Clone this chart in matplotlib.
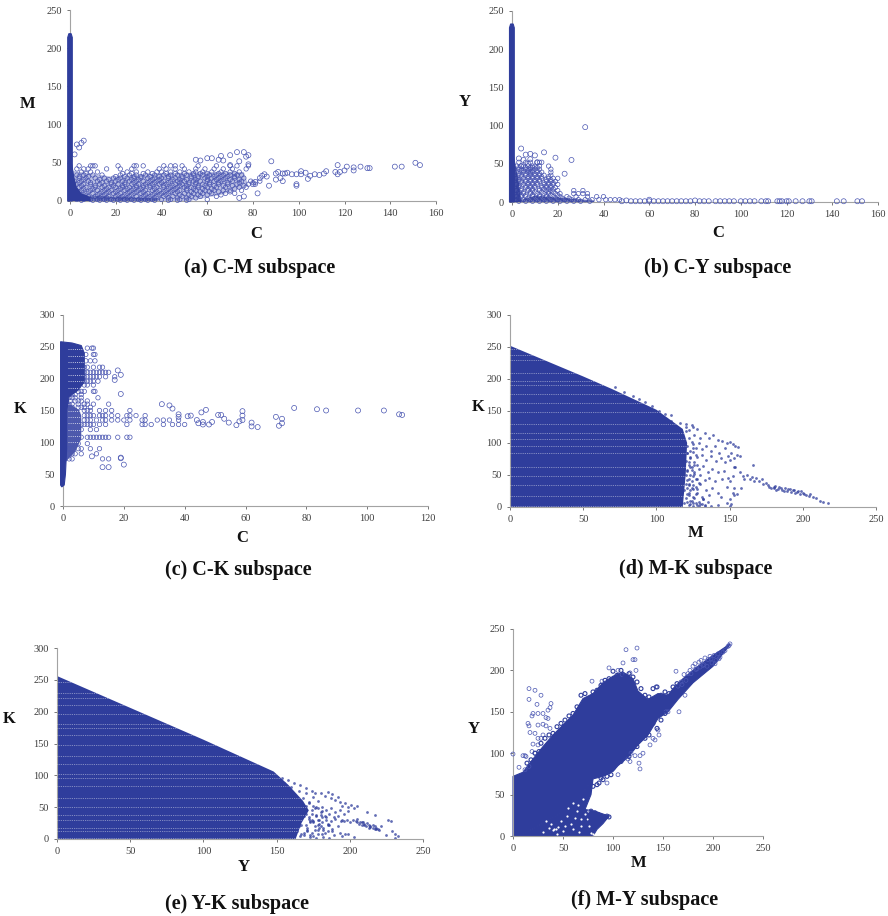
import matplotlib
matplotlib.use('Agg')
import matplotlib.pyplot as plt

W, H = 888, 916
BLUE = '#2F3D9C'
RING = '#4A56B2'
MID = '#8F96CF'
GREY = '#A3A3A3'
SERIF = ['Liberation Serif', 'DejaVu Serif']

# ---- (a) C-M
a_strip_c = [-1, 1, 1, 0.5, -0.5, -1]
a_strip_m = [0, 0, 214, 219, 219, 214]
a_wedge_c = [-1, -1, 1, 2, 3, 5, 9, 9, -1]
a_wedge_m = [0, 52, 48, 30, 18, 10, 5, 0, 0]
a_base_c = [0, 0, 8, 25, 40, 38, 20]
a_base_m = [0, 14, 7, 5, 3, 0, 0]
a_cloud_c = [0, 0, 18, 38, 58, 76, 78, 66, 52]
a_cloud_m = [0, 40, 32, 36, 38, 38, 20, 8, 0]
a_row_m = [2, 6, 10, 14, 18, 22, 26, 30, 34, 38, 42, 46]
a_row_c = [
    [3, 6, 9, 12, 15, 18, 21, 24, 27, 30, 33, 36, 40, 44, 48, 52, 60],
    [2, 5, 8, 11, 14, 17, 20, 23, 26, 29, 32, 35, 38, 41, 45, 49, 53, 57, 64],
    [3, 7, 10, 13, 16, 19, 22, 25, 28, 31, 34, 37, 40, 43, 46, 50, 54, 58, 62, 68, 72],
    [2, 5, 9, 12, 15, 18, 21, 24, 27, 30, 33, 36, 39, 42, 45, 48, 51, 55, 59, 63, 67, 70, 75],
    [4, 7, 11, 14, 17, 20, 23, 26, 29, 32, 35, 38, 41, 44, 47, 50, 53, 56, 60, 64, 68, 74, 77],
    [3, 6, 9, 13, 18, 21, 24, 27, 30, 33, 36, 39, 42, 46, 49, 52, 55, 58, 61, 65, 69, 73, 78, 81],
    [2, 5, 8, 12, 16, 20, 23, 26, 29, 32, 35, 38, 41, 44, 47, 50, 54, 57, 60, 63, 66, 71, 75, 79, 83],
    [4, 7, 11, 15, 19, 22, 25, 28, 31, 34, 37, 40, 43, 46, 49, 53, 56, 59, 62, 65, 68, 72, 76],
    [3, 6, 10, 14, 22, 26, 29, 33, 37, 41, 44, 47, 51, 54, 58, 61, 64, 67, 70, 73, 75],
    [5, 9, 12, 25, 29, 34, 38, 40, 44, 48, 52, 55, 58, 62, 66, 70, 74],
    [3, 6, 8, 16, 22, 27, 39, 42, 46, 50, 55, 59, 63, 67, 71, 77],
    [4, 9, 10, 11, 21, 28, 29, 32, 41, 44, 46, 49, 56, 64, 70, 73, 78],
]
a_row2_m = [1, 4, 8, 12, 16, 20, 24, 28, 32, 36]
a_row2_c = [
    [5, 10, 13, 16, 19, 22, 25, 28, 31, 34, 37, 43, 47, 51],
    [4, 7, 13, 16, 22, 25, 31, 34, 37, 43, 47, 51, 55],
    [6, 12, 15, 21, 24, 27, 33, 36, 39, 42, 48, 52, 56, 60, 66],
    [4, 8, 14, 17, 20, 26, 29, 32, 38, 41, 44, 47, 53, 57, 61, 65, 70],
    [6, 10, 16, 22, 25, 28, 31, 37, 43, 46, 51, 54, 58, 62, 72],
    [5, 11, 15, 19, 23, 29, 32, 35, 41, 45, 48, 51, 56, 59, 63, 67, 71, 76],
    [4, 9, 14, 18, 24, 28, 34, 37, 40, 43, 48, 52, 55, 61, 65, 69, 74, 80],
    [6, 13, 17, 21, 27, 30, 36, 39, 45, 48, 51, 55, 60, 64, 67, 70, 74],
    [4, 8, 20, 24, 28, 31, 35, 39, 43, 49, 53, 56, 60, 63, 66, 69, 72],
    [7, 23, 27, 32, 36, 42, 46, 50, 54, 57, 60, 65, 68, 72],
]
a_free_c = [151, 153, 142, 145, 131, 130, 127, 124, 124, 121, 120, 117, 117, 118, 116, 112, 111, 109,
            107, 105, 104, 103, 101, 101, 99, 99, 99, 97, 95, 94, 93, 93, 92, 91, 90, 90, 88, 87, 86,
            85, 84, 83, 82, 81, 80, 78, 78, 77, 76, 73, 70, 66, 65, 62, 60, 57, 55, 76, 74, 74, 67, 70,
            4, 3, 5, 6, 2]
a_free_m = [50, 47, 45, 45, 43, 43, 45, 44, 40, 45, 40, 47, 35, 38, 38, 39, 36, 34,
            35, 33, 29, 37, 39, 35, 35, 22, 20, 35, 37, 36, 36, 26, 30, 38, 36, 28, 52, 20, 32,
            35, 33, 30, 10, 25, 22, 48, 60, 58, 64, 64, 60, 59, 54, 56, 56, 53, 54, 6, 4, 52, 53, 47,
            70, 74, 76, 79, 61]

# ---- (b) C-Y
b_strip_c = [-1.1, 1, 1, 0.5, -0.6, -1.1]
b_strip_y = [0, 0, 228, 233, 233, 228]
b_wedge_c = [-1, -1, 1, 2, 3, 4, -1]
b_wedge_y = [0, 68, 58, 42, 25, 0, 0]
b_low_c = [0, 10, 20, 36, 36, 0]
b_low_y = [0, 8, 6, 2, 0, 0]
b_row_y = [3, 7, 11, 15, 19, 23, 27, 31, 35, 39, 43, 47, 52]
b_row_c = [
    [2, 5, 8, 11, 14, 17, 20, 23, 26, 29, 32, 35, 38, 41, 43, 45, 47],
    [2, 4, 6, 9, 12, 15, 18, 21, 24, 28, 33, 37, 40],
    [3, 5, 8, 11, 14, 16, 19, 21, 27, 29, 31, 33],
    [2, 4, 7, 9, 12, 15, 17, 20, 27, 31],
    [3, 6, 8, 10, 13, 15, 17, 19],
    [2, 5, 7, 9, 11, 14, 16, 18, 20],
    [3, 4, 6, 8, 10, 12, 15, 17, 19],
    [2, 5, 7, 9, 11, 13, 16, 18, 20],
    [3, 4, 6, 8, 10, 12, 14, 17],
    [2, 5, 7, 8, 9, 11, 13, 17],
    [3, 4, 6, 7, 8, 10, 12, 17],
    [2, 4, 5, 7, 9, 10, 12, 16],
    [3, 6, 8, 11, 12, 13],
]
b_row2_y = [1, 5, 9, 13, 17, 21, 25, 29, 33, 37, 41, 45]
b_row2_c = [
    [3, 6, 9, 12, 15, 18, 21, 24, 27, 30, 34],
    [3, 7, 10, 13, 16, 19, 22, 25],
    [4, 6, 9, 12, 15, 17, 20],
    [3, 5, 8, 10, 13, 16, 18],
    [4, 7, 9, 12, 14, 16, 18],
    [3, 6, 8, 10, 13, 15, 17],
    [4, 7, 9, 11, 14, 16, 18],
    [3, 6, 8, 10, 12, 15, 17],
    [4, 7, 9, 11, 13, 16],
    [3, 6, 8, 10, 12],
    [4, 5, 7, 9, 11],
    [3, 6, 8, 9, 11],
]
b_free_c = [32, 4, 6, 8, 10, 14, 19, 26, 23, 5, 3, 7, 4, 8, 11,
            48, 50, 52, 54, 56, 58, 60, 60, 62, 64, 66, 68, 70, 72, 74, 76, 78, 80, 82, 84, 86, 89, 91, 93,
            95, 97, 100, 102, 104, 106, 109, 111, 112, 116, 117, 118, 120, 121, 124, 127, 130, 131, 142,
            145, 151, 153]
b_free_y = [98, 70, 62, 63, 61, 65, 58, 55, 37, 55, 57, 50, 47, 56, 52,
            1, 2, 1, 1, 1, 1, 1, 3, 1, 1, 1, 1, 1, 1, 1, 1, 1, 2, 1, 1, 1, 1, 1, 1,
            1, 1, 1, 1, 1, 1, 1, 1, 1, 1, 1, 1, 1, 1, 1, 1, 1, 1, 1,
            1, 1, 1]

# ---- (c) C-K
c_block_c = [-0.8, -0.8, 3, 6, 7, 7, 5, 2, 1.2, 1.2, 0.8, 0.4, -0.4]
c_block_k = [33, 258, 256, 252, 240, 195, 182, 172, 150, 90, 50, 33, 30]
c_lower_c = [0, 3, 5.5, 6, 6, 4, 1, 0]
c_lower_k = [170, 158, 150, 140, 105, 85, 70, 60]
c_row_k = [248, 238, 228, 218, 210, 203, 196, 190, 180, 175, 170, 165, 160, 155, 150, 142, 135, 128, 120, 108, 98, 90, 82, 74]
c_row_c = [
    [8, 9.5, 10],
    [7.5, 10.5, 10],
    [7.5, 9, 10.5],
    [7, 8, 10, 12, 13],
    [7, 8, 9, 10, 11, 12, 13, 14, 15],
    [7, 8, 9, 10, 11, 12, 14, 17],
    [7, 8, 9, 10, 11.5],
    [7, 8, 10],
    [3, 5, 6, 7, 10, 10.5],
    [2, 3, 4, 6],
    [2, 3, 4, 6, 11.5],
    [2.5, 4, 5, 6, 8],
    [2, 3, 5, 7, 8, 10, 15],
    [3, 5, 6, 7, 9],
    [3, 4, 7, 8, 9, 12, 14, 16, 22],
    [2, 3, 5, 7, 8, 9, 10, 12, 13, 14, 16, 18, 21, 22, 24, 27],
    [3, 5, 7, 8, 9, 11, 13, 14, 16, 18, 20, 22, 26, 27, 31, 33, 35, 38],
    [2, 4, 6, 7, 8, 9, 10, 12, 14, 21, 26, 27, 29, 33, 36, 38, 40],
    [2, 3, 5, 6, 9, 11],
    [2, 4, 5, 6, 8, 9, 10, 11, 12, 13, 14, 15, 18, 21, 22],
    [3, 4, 5, 8],
    [2, 3, 5, 6, 9, 12],
    [2, 3, 4, 6, 11],
    [2, 3, 13, 15],
]
c_free_c = [18, 19, 17, 19, 13, 15, 20, 19, 19, 9.5, 32.5, 35, 36, 47, 45.5, 42, 41, 38, 38, 44, 44.5, 46, 46, 48, 49,
            51, 52, 53, 54.5, 57, 58, 59, 59, 59, 62, 62, 64, 70, 71, 72, 72, 76, 83.5, 86.5, 97, 105.5, 110.5, 111.5]
c_free_k = [213, 206, 198, 176, 61, 61, 65, 76, 75, 78, 160, 158, 153, 151, 147, 142, 141, 144, 140, 135, 130, 128, 132, 128, 132,
            143, 143, 137, 131, 127, 133, 135, 142, 149, 131, 125, 124, 140, 126, 137, 130, 154, 152, 150, 150, 150, 144, 143]

# ---- (d) M-K
d_mass_m = [0, 0, 50, 70, 85, 100, 112, 118, 121, 120, 118]
d_mass_k = [0, 252, 204, 184, 168, 152, 132, 122, 100, 50, 0]
d_gaps = [247, 238, 230, 209, 197, 191, 176, 163, 149, 130, 115, 107, 96, 84, 63, 48, 34, 17, 2]
d_dot_m = [120, 122, 124, 126, 128, 130, 133, 136, 139, 142, 145, 148, 150, 152, 154, 156, 157, 125, 127, 129, 131, 134,
           137, 140, 143, 147, 149, 151, 153, 155, 121, 123, 125, 128, 131, 134, 137, 141, 144, 147, 150, 153, 122, 124,
           126, 129, 132, 135, 138, 142, 146, 149, 152, 121, 123, 126, 128, 130, 133, 136, 140, 145, 150, 153, 122, 124,
           127, 130, 134, 138, 142, 148, 152, 121, 125, 128, 132, 136, 144, 150, 153, 123, 127, 131, 135, 148, 151,
           122, 125, 129, 133, 137, 142, 150,
           154, 157, 159, 160, 162, 164, 165, 167, 168, 170, 172, 173, 175, 177, 180, 181, 183, 184, 186, 188, 189,
           191, 192, 194, 195, 197, 198, 200, 202, 204, 205, 207, 209, 212, 214, 217, 166, 158, 155,
           72, 78, 84, 88, 92, 97, 102, 106, 110, 116, 120, 125, 110, 103]
d_dot_k = [125, 120, 128, 113, 122, 108, 115, 108, 112, 105, 103, 100, 102, 98, 96, 94, 80, 98, 92, 100, 90, 96,
           88, 95, 85, 92, 80, 85, 76, 82, 85, 78, 86, 78, 82, 74, 80, 72, 76, 70, 74, 62, 70, 62,
           66, 60, 64, 55, 60, 54, 56, 46, 48, 58, 50, 52, 44, 50, 42, 46, 40, 44, 40, 30, 36, 30,
           32, 36, 26, 30, 22, 32, 22, 20, 15, 22, 12, 18, 15, 12, 18, 10, 6, 5, 8, 6, 4,
           3, 2, 2, 3, 1, 3, 2,
           62, 55, 48, 44, 50, 43, 47, 40, 45, 40, 44, 36, 38, 32, 30, 33, 28, 31, 26, 30, 25,
           28, 23, 27, 22, 25, 21, 22, 19, 17, 20, 15, 14, 10, 8, 7, 66, 30, 20,
           187, 180, 174, 168, 164, 158, 150, 146, 144, 132, 130, 125, 135, 142]
d_edge_m = [118, 119, 120, 121, 122, 123, 124, 125, 119, 120, 121, 122, 123, 124, 126, 127, 119, 120, 121, 122, 123, 125, 126,
            128, 120, 121, 122, 124, 125, 127, 129, 119, 121, 122, 123, 125, 127, 128, 131, 120, 122, 124, 126, 129, 132,
            119, 121, 123, 125, 128, 130, 133, 176, 178, 180, 182, 185, 187, 190, 193, 196, 199, 201]
d_edge_k = [110, 105, 118, 95, 108, 88, 102, 92, 80, 72, 84, 66, 76, 58, 70, 82, 60, 50, 56, 44, 62, 48, 54,
            66, 36, 42, 34, 40, 28, 44, 38, 26, 30, 22, 26, 34, 20, 28, 16, 14, 18, 10, 14, 8, 12,
            6, 8, 4, 6, 3, 5, 2, 34, 29, 32, 27, 30, 25, 28, 26, 23, 25, 20]

# ---- (e) Y-K
e_mass_y = [0, 0, 50, 100, 148, 158, 168, 172, 167, 163]
e_mass_k = [0, 256, 206, 156, 106, 85, 60, 45, 25, 0]
e_gaps = [247, 229, 222, 211, 196, 180, 174, 164, 148, 131, 118, 102, 96, 84, 64, 50, 37, 30, 18, 12, 2]
e_dot_y = [150, 154, 158, 162, 166, 170, 174, 176, 155, 160, 165, 170, 175, 178, 180, 183, 185, 187, 188, 190, 192, 193,
           195, 197, 199, 201, 203, 205, 172, 175, 178, 181, 184, 187, 190, 193, 196, 199, 174, 177, 180, 183, 186, 189,
           192, 195, 172, 175, 178, 181, 184, 187, 190, 194, 198, 200, 170, 173, 176, 179, 182, 185, 188, 192, 196, 171,
           174, 178, 181, 185, 189, 193, 197, 202, 205, 207, 208, 210, 211, 213, 214, 216, 217, 218, 219, 220, 221, 212, 217,
           226, 228, 229, 231, 233, 225, 231, 203, 199, 169, 173, 177, 182, 186, 195]
e_dot_k = [98, 96, 92, 88, 85, 80, 76, 72, 88, 82, 76, 72, 66, 60, 72, 68, 74, 65, 70, 62, 66, 58,
           52, 56, 50, 54, 48, 52, 56, 52, 48, 50, 45, 48, 42, 46, 40, 44, 40, 36, 42, 36, 40, 34,
           36, 30, 32, 28, 30, 26, 34, 28, 32, 28, 30, 26, 22, 26, 20, 24, 18, 22, 16, 20, 28, 14,
           10, 14, 8, 12, 6, 10, 8, 30, 26, 26, 22, 24, 20, 22, 20, 18, 20, 16, 16, 14, 20, 42, 38,
           30, 28, 12, 8, 5, 6, 1, 3, 8, 6, 3, 2, 3, 1, 4]
e_edge_y = [164, 165, 166, 167, 168, 169, 170, 171, 172, 173, 174, 175, 176, 177, 178, 179, 180, 181, 165, 167, 169, 171, 173,
            175, 177, 179, 181, 183, 185, 168, 170, 172, 174, 176, 178, 180, 182, 184, 186, 188, 204, 206, 208, 210, 212,
            214, 216, 218, 205, 209, 213, 217]
e_edge_k = [12, 30, 4, 22, 40, 10, 52, 18, 34, 6, 46, 26, 14, 38, 8, 30, 20, 44, 20, 8, 36, 12, 28,
            4, 50, 18, 34, 10, 24, 64, 40, 58, 30, 48, 22, 38, 14, 30, 22, 12, 28, 24, 27, 22, 25,
            19, 22, 18, 31, 26, 18, 15]

# ---- (f) M-Y
f_mass_m = [0, 0, 10, 20, 30, 40, 50, 60, 70, 80, 90, 100, 110, 120, 125, 135, 145, 155, 160, 170, 185, 200, 217,
            215, 200, 180, 165, 155, 145, 135, 125, 115, 105, 100, 90, 80, 70, 50, 20, 7]
f_mass_y = [0, 72, 77, 93, 108, 122, 134, 146, 166, 172, 185, 193, 198, 190, 175, 165, 172, 170, 178, 190, 205, 218, 232,
            228, 205, 185, 165, 150, 142, 122, 110, 95, 85, 78, 72, 69, 53, 29, 9, 0]
f_wing_m = [7, 50, 70, 80, 78, 72, 82, 96, 90, 84, 80, 20]
f_wing_y = [0, 29, 53, 69, 50, 32, 30, 24, 15, 8, 0, 0]
f_free_m = [16, 22, 28, 16, 24, 38, 37, 35, 30, 25, 19, 20, 33, 35, 30, 33, 25, 15, 16, 17, 22, 30, 37, 28, 25, 20,
            25, 22, 19, 0, 10, 12, 13, 6, 12, 16, 113, 124, 120, 122, 110, 96, 123, 79, 89, 143, 166, 163, 172,
            127, 126, 130, 127, 122, 117, 115, 118, 94, 105, 137, 142, 140, 146, 145, 153, 155, 109, 117, 105,
            171, 175, 177, 180, 182, 184, 186, 188, 190, 192, 195, 197, 199, 201, 203, 205, 207, 210, 212, 215, 216, 217,
            178, 183, 187, 191, 194, 198, 202, 206, 168, 173, 165, 169]
f_free_y = [178, 176, 170, 165, 159, 160, 155, 152, 148, 148, 145, 148, 143, 142, 135, 133, 134, 136, 133, 125, 124, 122, 130, 118, 118, 111,
            110, 100, 102, 99, 97, 97, 96, 83, 80, 84, 225, 227, 213, 213, 209, 203, 200, 187, 187, 180, 150, 199, 170,
            81, 88, 100, 97, 97, 90, 93, 100, 64, 74, 110, 116, 118, 122, 128, 150, 150, 195, 197, 200,
            195, 196, 200, 205, 208, 202, 210, 212, 206, 215, 213, 217, 209, 218, 212, 220, 216, 222, 224, 229, 230, 232,
            196, 201, 204, 207, 205, 214, 208, 214, 186, 188, 181, 183]
f_edge_m = [14, 18, 22, 26, 28, 32, 36, 40, 44, 48, 52, 56, 60, 64, 68, 72, 76, 80, 84, 88, 92, 96, 100, 104, 108, 112, 116, 120,
            124, 128, 132, 136, 140, 144, 148, 152, 156, 160, 164,
            152, 148, 144, 140, 136, 132, 128, 124, 120, 116, 112, 108, 104, 100, 96, 92, 88, 84, 80, 98, 94, 90, 86,
            85, 88, 91, 94, 96, 78, 82, 86, 75, 80, 84]
f_edge_y = [88, 92, 100, 102, 112, 118, 122, 124, 132, 136, 140, 145, 148, 156, 170, 172, 166, 174, 176, 182, 188, 190, 199, 194, 200, 192, 196, 192,
            186, 178, 170, 168, 178, 180, 170, 174, 172, 180, 184,
            148, 140, 130, 136, 122, 118, 120, 108, 108, 96, 100, 90, 88, 82, 78, 76, 70, 62, 60, 74, 72, 68, 64,
            26, 24, 22, 24, 23, 30, 28, 20, 20, 16, 14]
f_hole_m = [41, 43, 45, 40, 78, 60, 65, 33, 50, 72, 68, 55, 38, 62, 80, 75, 70, 30, 58, 48, 64, 54, 74, 44, 68, 36, 60, 52, 66, 76]
f_hole_y = [8, 9, 11, 7, 4, 40, 38, 18, 6, 26, 12, 34, 14, 22, 2, 30, 45, 5, 14, 18, 30, 24, 20, 3, 20, 10, 9, 12, 5, 12]

fig = plt.figure(figsize=(W / 100, H / 100), dpi=100)


def panel(left, right, top, bottom, xmax, ymax, xticks, yticks):
    ax = fig.add_axes([left / W, 1 - bottom / H, (right - left) / W, (bottom - top) / H])
    ax.set_xlim(0, xmax)
    ax.set_ylim(0, ymax)
    ax.set_xticks(xticks)
    ax.set_yticks(yticks)
    ax.spines['top'].set_visible(False)
    ax.spines['right'].set_visible(False)
    ax.spines['left'].set_color(GREY)
    ax.spines['bottom'].set_color(GREY)
    ax.tick_params(length=2, width=0.7, color='#777777', labelsize=7.5, labelcolor='#3d3d3d', pad=4)
    for lab in ax.get_xticklabels() + ax.get_yticklabels():
        lab.set_family(SERIF)
    return ax


def rings(ax, xs, ys, size=10):
    ax.scatter(xs, ys, s=size, facecolors='none', edgecolors=RING, linewidths=0.5, clip_on=False, zorder=3)


def rows(ax, levels, columns, size=10):
    for lev, col in zip(levels, columns):
        rings(ax, col, [lev] * len(col), size)


def gaps(ax, poly, levels):
    for lev in levels:
        line, = ax.plot([0, 260], [lev, lev], color='white', lw=0.6, ls=(0, (1, 1.2)), alpha=0.55, zorder=3)
        line.set_clip_path(poly)


def dots(ax, xs, ys):
    ax.scatter(xs, ys, s=4, color=BLUE, alpha=0.75, linewidths=0, clip_on=False, zorder=2)


def label(x, y, s, size=12, bold=True):
    fig.text(x / W, 1 - y / H, s, ha='center', va='center', fontsize=size, family=SERIF,
             fontweight='bold' if bold else 'normal', color='#111111')


# (a)
ax = panel(70, 436, 10, 201, 160, 250, range(0, 161, 20), range(0, 251, 50))
ax.fill(a_cloud_c, a_cloud_m, color=MID, lw=0, alpha=0.6)
rows(ax, a_row_m, a_row_c)
rows(ax, a_row2_m, a_row2_c)
rings(ax, a_free_c, a_free_m, 13)
ax.fill(a_base_c, a_base_m, color=BLUE, lw=0, alpha=0.55, zorder=4)
ax.fill(a_wedge_c, a_wedge_m, color=BLUE, lw=0, clip_on=False, zorder=4)
ax.fill(a_strip_c, a_strip_m, color=BLUE, lw=0.8, clip_on=False, zorder=4)

# (b)
ax = panel(512, 878, 11, 202, 160, 250, range(0, 161, 20), range(0, 251, 50))
rows(ax, b_row_y, b_row_c)
rows(ax, b_row2_y, b_row2_c)
rings(ax, b_free_c, b_free_y, 13)
ax.fill(b_low_c, b_low_y, color=BLUE, lw=0, alpha=0.7, zorder=4)
ax.fill(b_wedge_c, b_wedge_y, color=BLUE, lw=0, alpha=0.9, clip_on=False, zorder=4)
ax.fill(b_strip_c, b_strip_y, color=BLUE, lw=0.8, clip_on=False, zorder=4)

# (c)
ax = panel(63, 428, 315, 506, 120, 300, range(0, 121, 20), range(0, 301, 50))
lower = ax.fill(c_lower_c, c_lower_k, color=BLUE, lw=0, alpha=0.85)[0]
poly = ax.fill(c_block_c, c_block_k, color=BLUE, lw=0.8, clip_on=False, zorder=4)[0]
rows(ax, c_row_k, c_row_c)
rings(ax, c_free_c, c_free_k, 13)
for lev in [246, 236, 226, 216, 206, 196, 186]:
    line, = ax.plot([1.5, 7], [lev, lev], color='white', lw=0.7, ls=(0, (1, 1.2)), alpha=0.7, zorder=5)
    line.set_clip_path(poly)
for lev in [160, 150, 140, 130, 120, 110, 100]:
    line, = ax.plot([1.5, 6], [lev, lev], color='white', lw=0.7, ls=(0, (1, 1.2)), alpha=0.7, zorder=5)
    line.set_clip_path(lower)

# (d)
ax = panel(510, 876, 315, 507, 250, 300, range(0, 251, 50), range(0, 301, 50))
poly = ax.fill(d_mass_m, d_mass_k, color=BLUE, lw=0, clip_on=False)[0]
gaps(ax, poly, d_gaps)
dots(ax, d_dot_m, d_dot_k)
dots(ax, d_edge_m, d_edge_k)

# (e)
ax = panel(57, 423, 648, 839, 250, 300, range(0, 251, 50), range(0, 301, 50))
poly = ax.fill(e_mass_y, e_mass_k, color=BLUE, lw=0, clip_on=False)[0]
gaps(ax, poly, e_gaps)
dots(ax, e_dot_y, e_dot_k)
dots(ax, e_edge_y, e_edge_k)

# (f)
ax = panel(513, 763, 629, 836, 250, 250, range(0, 251, 50), range(0, 251, 50))
ax.fill(f_wing_m, f_wing_y, color=BLUE, lw=0.8)
ax.fill(f_mass_m, f_mass_y, color=BLUE, lw=0.8, clip_on=False)
ax.scatter(f_hole_m, f_hole_y, s=2.5, color='white', linewidths=0, zorder=3)
rings(ax, f_free_m, f_free_y, 8)
ax.scatter(f_edge_m, f_edge_y, s=8, facecolors='none', edgecolors=BLUE, linewidths=0.8, zorder=3)

# axis names and captions
label(256, 234, 'C')
label(28, 104, 'M')
label(718, 233, 'C')
label(465, 102, 'Y')
label(242, 538, 'C')
label(20, 409, 'K')
label(696, 533, 'M')
label(478, 407, 'K')
label(244, 867, 'Y')
label(9, 719, 'K')
label(639, 863, 'M')
label(474, 729, 'Y')

label(260, 268, '(a) C-M subspace', 14.5)
label(718, 268, '(b) C-Y subspace', 14.5)
label(238, 570, '(c) C-K subspace', 14.5)
label(696, 569, '(d) M-K subspace', 14.5)
label(237, 904, '(e) Y-K subspace', 14.5)
label(645, 900, '(f) M-Y subspace', 14.5)

plt.savefig('out.png', dpi=100)
